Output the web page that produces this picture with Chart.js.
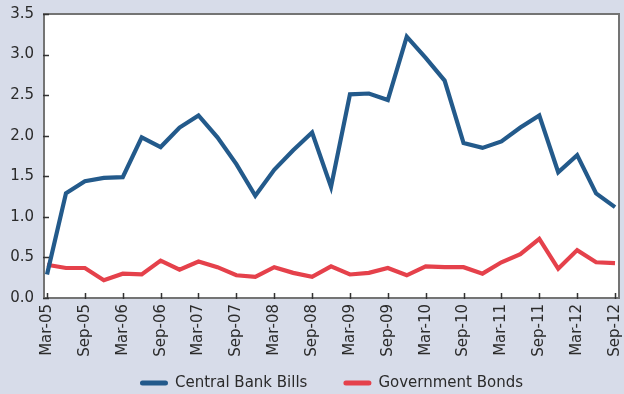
<!DOCTYPE html>
<html>
<head>
<meta charset="utf-8">
<script src="https://cdn.jsdelivr.net/npm/chart.js@4.4.1/dist/chart.umd.min.js"></script>
<style>
  html, body { margin: 0; padding: 0; background: #d7dce9; }
  #wrap { width: 624px; height: 394px; }
</style>
</head>
<body>
<div id="wrap"><canvas id="chart" width="624" height="394"></canvas></div>
<script>
// quarterly observations, Mar-05 .. Sep-12
const quarters = [
  "Mar-05", "Jun-05", "Sep-05", "Dec-05", "Mar-06", "Jun-06", "Sep-06", "Dec-06",
  "Mar-07", "Jun-07", "Sep-07", "Dec-07", "Mar-08", "Jun-08", "Sep-08", "Dec-08",
  "Mar-09", "Jun-09", "Sep-09", "Dec-09", "Mar-10", "Jun-10", "Sep-10", "Dec-10",
  "Mar-11", "Jun-11", "Sep-11", "Dec-11", "Mar-12", "Jun-12", "Sep-12"
];
const centralBankBills = [
  0.29, 1.29, 1.44, 1.48, 1.49, 1.98, 1.86, 2.10, 2.25, 1.98, 1.65, 1.26,
  1.58, 1.82, 2.04, 1.37, 2.51, 2.52, 2.44, 3.22, 2.96, 2.68, 1.91, 1.85,
  1.93, 2.10, 2.25, 1.55, 1.76, 1.29, 1.12
];
const governmentBonds = [
  0.41, 0.37, 0.37, 0.22, 0.30, 0.29, 0.46, 0.35, 0.45, 0.38, 0.28, 0.26,
  0.38, 0.31, 0.26, 0.39, 0.29, 0.31, 0.37, 0.28, 0.39, 0.38, 0.38, 0.30,
  0.44, 0.54, 0.73, 0.36, 0.59, 0.44, 0.43
];
const seriesNames = ["Central Bank Bills", "Government Bonds"];
const seriesColors = ["#235a8b", "#e5414b"];

const FONT = "DejaVu Sans";
const TEXT = "#2b2b2b";

const toPoints = (vals) => vals.map((v, i) => ({ x: i, y: v }));

// keep the plot box where we put it (no extra room for edge labels)
const noEdgePadding = (scale) => {
  scale.paddingTop = 0;
  scale.paddingBottom = 0;
  scale.paddingLeft = 0;
  scale.paddingRight = 0;
};

// white plot area
const plotBg = {
  id: "plotBg",
  beforeDraw(chart) {
    const { ctx, chartArea: a } = chart;
    ctx.save();
    ctx.fillStyle = "#ffffff";
    ctx.fillRect(a.left, a.top, a.right - a.left, a.bottom - a.top);
    ctx.restore();
  }
};

// frame, inner ticks and legend
const extras = {
  id: "extras",
  afterDraw(chart) {
    const { ctx, chartArea: a, scales } = chart;
    ctx.save();
    ctx.strokeStyle = "#747474";
    ctx.lineWidth = 2;
    ctx.strokeRect(a.left, a.top, a.right - a.left, a.bottom - a.top);

    ctx.strokeStyle = "#333";
    ctx.lineWidth = 1.5;
    ctx.beginPath();
    scales.y.ticks.forEach((t) => {
      const y = Math.round(scales.y.getPixelForValue(t.value)) + 0.5;
      ctx.moveTo(a.left - 1, y);
      ctx.lineTo(a.left + 5, y);
    });
    scales.x.ticks.forEach((t) => {
      const x = Math.round(scales.x.getPixelForValue(t.value)) + 0.5;
      ctx.moveTo(x, a.bottom + 1);
      ctx.lineTo(x, a.bottom - 5);
    });
    ctx.stroke();

    // legend, centred under the plot area
    ctx.font = "15px '" + FONT + "'";
    ctx.textBaseline = "middle";
    ctx.fillStyle = TEXT;
    const boxW = 28, gap = 7, spacing = 36, ly = 383;
    const widths = seriesNames.map((n) => boxW + gap + ctx.measureText(n).width);
    const total = widths.reduce((s, w) => s + w, 0) + spacing * (widths.length - 1);
    let x = (a.left + a.right) / 2 - total / 2;
    seriesNames.forEach((name, i) => {
      ctx.fillStyle = seriesColors[i];
      ctx.beginPath();
      ctx.roundRect(x, ly - 2.5, boxW, 5, 2.5);
      ctx.fill();
      ctx.fillStyle = TEXT;
      ctx.fillText(name, x + boxW + gap, ly);
      x += widths[i] + spacing;
    });
    ctx.restore();
  }
};

new Chart(document.getElementById("chart"), {
  type: "line",
  data: {
    datasets: [
      {
        label: seriesNames[0],
        data: toPoints(centralBankBills),
        borderColor: seriesColors[0],
        backgroundColor: seriesColors[0],
        borderWidth: 4.2
      },
      {
        label: seriesNames[1],
        data: toPoints(governmentBonds),
        borderColor: seriesColors[1],
        backgroundColor: seriesColors[1],
        borderWidth: 4.2
      }
    ]
  },
  options: {
    responsive: false,
    animation: false,
    devicePixelRatio: 1,
    layout: { padding: { top: 14, right: 5, left: 0, bottom: 0 } },
    elements: { point: { radius: 0 }, line: { tension: 0 } },
    plugins: {
      legend: { display: false },
      tooltip: { enabled: false }
    },
    scales: {
      x: {
        type: "linear",
        min: -0.16,
        max: 30.21,
        grid: { display: false, drawTicks: false },
        border: { display: false },
        afterBuildTicks(scale) {
          scale.ticks = quarters
            .map((q, i) => i)
            .filter((i) => i % 2 === 0)
            .map((i) => ({ value: i }));
        },
        afterFit(scale) {
          scale.height = 96;
          noEdgePadding(scale);
        },
        ticks: {
          autoSkip: false,
          minRotation: 90,
          maxRotation: 90,
          padding: 6,
          color: TEXT,
          font: { family: FONT, size: 15 },
          callback: (v) => quarters[v] ?? ""
        }
      },
      y: {
        min: 0,
        max: 3.5,
        grid: { display: false, drawTicks: false },
        border: { display: false },
        afterFit(scale) {
          scale.width = 44;
          noEdgePadding(scale);
        },
        ticks: {
          stepSize: 0.5,
          padding: 10,
          color: TEXT,
          font: { family: FONT, size: 15 },
          callback: (v) => v.toFixed(1)
        }
      }
    }
  },
  plugins: [plotBg, extras]
});
</script>
</body>
</html>
